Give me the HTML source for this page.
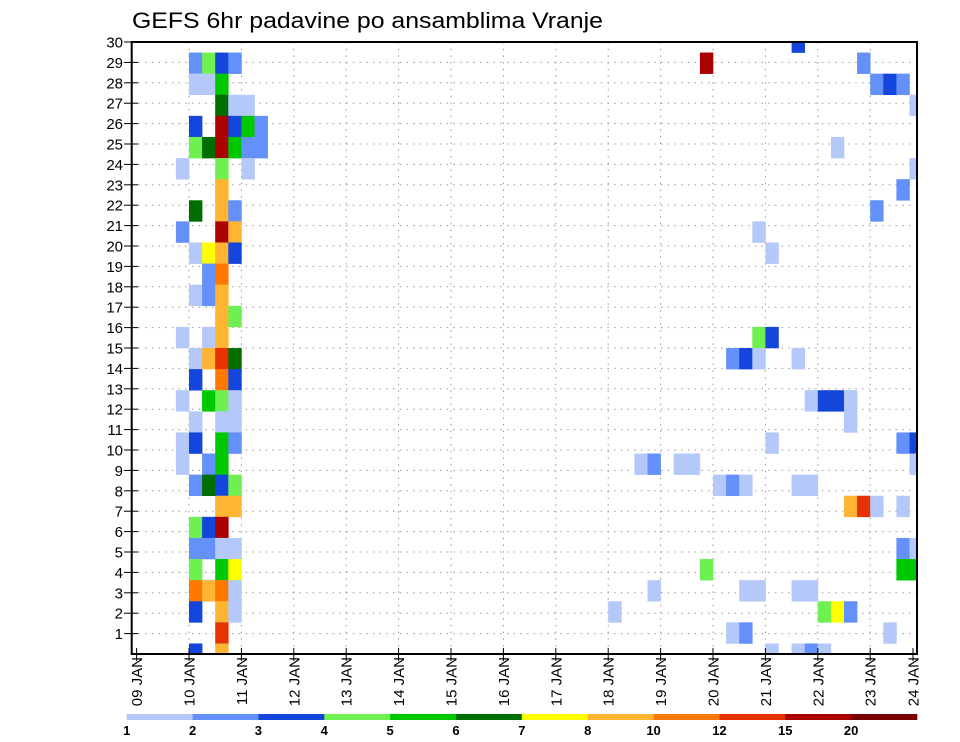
<!DOCTYPE html>
<html><head><meta charset="utf-8"><style>
html,body{margin:0;padding:0;background:#fff;}
svg{display:block;font-family:"Liberation Sans",sans-serif;}
</style></head><body>
<svg id="chart" width="960" height="742" viewBox="0 0 960 742" xmlns="http://www.w3.org/2000/svg">
<text x="132" y="28" font-size="22" textLength="471" lengthAdjust="spacingAndGlyphs" fill="#000">GEFS 6hr padavine po ansamblima Vranje</text>
<g id="grid"></g>
<g id="cells"></g>
<g id="axes"></g>
<g id="legend"></g>
</svg>
<script>
// ---- data ----
var dayLabels = ["09 JAN","10 JAN","11 JAN","12 JAN","13 JAN","14 JAN","15 JAN","16 JAN","17 JAN","18 JAN","19 JAN","20 JAN","21 JAN","22 JAN","23 JAN","24 JAN"];
var memberTicks = [1,2,3,4,5,6,7,8,9,10,11,12,13,14,15,16,17,18,19,20,21,22,23,24,25,26,27,28,29,30];
var levels = [1,2,3,4,5,6,7,8,10,12,15,20];
var levelColors = ["#b4c8fa","#6490fa","#1446dc","#6ef050","#00c800","#006e00","#ffff00","#ffb432","#ff7800","#e63200","#aa0000","#780000"];
// cells: 6-hour step index, member index, precipitation (mm)
var cellStep = [
4,5,6,7, 4,5,6, 6,7,8, 4,6,7,8,9, 4,5,6,7,8,9, 3,6,8, 6, 4,6,7, 3,6,7, 4,5,6,7, 5,6, 4,5,6, 6,7, 3,5,6,
4,5,6,7, 4,6,7, 3,5,6,7, 4,6,7, 3,4,6,7, 3,5,6, 4,5,6,7, 6,7, 4,5,6, 4,5,6,7, 4,6,7, 4,5,6,7, 4,6,7, 6, 4,6,
50, 43,55, 56,57,58, 59, 53, 59, 58, 56, 47, 48, 47,48, 45,46,47,50, 51,52,53,54, 54, 48,58,59, 38,39,41,42,59,
44,45,46,50,51, 54,55,56,58, 58,59, 43,58,59, 39,46,47,50,51, 36,52,53,54, 45,46,57, 48,50,51,52];
var cellMember = [
28,28,28,28, 27,27,27, 26,26,26, 25,25,25,25,25, 24,24,24,24,24,24, 23,23,23, 22, 21,21,21, 20,20,20, 19,19,19,19, 18,18, 17,17,17, 16,16, 15,15,15,
14,14,14,14, 13,13,13, 12,12,12,12, 11,11,11, 10,10,10,10, 9,9,9, 8,8,8,8, 7,7, 6,6,6, 5,5,5,5, 4,4,4, 3,3,3,3, 2,2,2, 1, 0,0,
29, 28,28, 27,27,27, 26, 24, 23, 22, 21, 20, 19, 15,15, 14,14,14,14, 12,12,12,12, 11, 10,10,10, 9,9,9,9,9,
8,8,8,8,8, 7,7,7,7, 5,5, 4,4,4, 3,3,3,3,3, 2,2,2,2, 1,1,1, 0,0,0,0];
var cellValue = [
2.5,4.5,3.5,2.5, 1.5,1.5,5.5, 6.5,1.5,1.5, 3.5,17,3.5,5.5,2.5, 4.5,6.5,17,5.5,2.5,2.5, 1.5,4.5,1.5, 9, 6.5,9,2.5, 2.5,17,9, 1.5,7.5,9,3.5, 2.5,11, 1.5,2.5,9, 9,4.5, 1.5,1.5,9,
1.5,9,13,6.5, 3.5,11,3.5, 1.5,5.5,4.5,1.5, 1.5,1.5,1.5, 1.5,3.5,5.5,2.5, 1.5,2.5,5.5, 2.5,6.5,3.5,4.5, 9,9, 4.5,3.5,17, 2.5,2.5,1.5,1.5, 4.5,5.5,7.5, 11,9,11,1.5, 3.5,9,1.5, 13, 3.5,9,
3.5, 17,2.5, 2.5,3.5,2.5, 1.5, 1.5, 1.5, 2.5, 2.5, 1.5, 1.5, 4.5,3.5, 2.5,3.5,1.5,1.5, 1.5,3.5,3.5,1.5, 1.5, 1.5,2.5,3.5, 1.5,2.5,1.5,1.5,1.5,
1.5,2.5,1.5,1.5,1.5, 9,13,1.5,1.5, 2.5,1.5, 4.5,5.5,5.5, 1.5,1.5,1.5,1.5,1.5, 1.5,4.5,7.5,2.5, 1.5,2.5,1.5, 1.5,1.5,2.5,1.5];

// ---- geometry ----
var NS="http://www.w3.org/2000/svg";
var L=131.7,R=917,T=42,B=654;
var x0=136.6, dayW=52.4, stepW=dayW/4;
function xDay(d){return x0+d*dayW;}
function xStep(k){return x0+k*stepW;}
var cellH=(B-T)/29;
function yMember(m){return B-m*cellH;}
var tickH=(B-T)/30;
function yTick(v){return B-v*tickH;}
function colorFor(v){var i=0;for(var j=0;j<levels.length;j++){if(v>=levels[j])i=j;}return levelColors[i];}
function mk(tag,attrs,parent){var e=document.createElementNS(NS,tag);for(var a in attrs)e.setAttribute(a,attrs[a]);parent.appendChild(e);return e;}

var grid=document.getElementById('grid');
for(var i=1;i<memberTicks.length;i++){
  var gl=mk('line',{x1:L,x2:R,y1:yTick(memberTicks[i-1]),y2:yTick(memberTicks[i-1]),stroke:'#999','stroke-width':1,'stroke-dasharray':'1.5,5.2'},grid);
  
  
}
for(var d=1;d<dayLabels.length-1;d++){
  var vl=mk('line',{x1:xDay(d),x2:xDay(d),y1:T,y2:B,stroke:'#999','stroke-width':1,'stroke-dasharray':'1.5,5.2'},grid);
  
  
}

var cells=document.getElementById('cells');
var clip=mk('clipPath',{id:'pc'},cells);
mk('rect',{x:L,y:T,width:R-L,height:B-T},clip);
cells.setAttribute('clip-path','url(#pc)');
for(var c=0;c<cellStep.length;c++){
  var yc=yMember(cellMember[c]);
  var r=mk('rect',{x:xStep(cellStep[c]),y:yc-cellH/2,width:stepW+0.3,height:cellH+0.3,fill:colorFor(cellValue[c])},cells);
  
  
}

var axes=document.getElementById('axes');
var frame=mk('rect',{x:L,y:T,width:R-L,height:B-T,fill:'none',stroke:'#000','stroke-width':2},axes);


for(var i=0;i<memberTicks.length;i++){
  var v=memberTicks[i],y=yTick(v);
  mk('line',{x1:124,x2:138,y1:y,y2:y,stroke:'#000','stroke-width':1},axes);
  var t=mk('text',{x:123,y:y+5.5,'font-size':15,'text-anchor':'end',fill:'#000'},axes);
  t.textContent=v;
  
  
}
for(var d=0;d<dayLabels.length;d++){
  var x=Math.min(xDay(d),913);
  mk('line',{x1:x,x2:x,y1:B-6,y2:B+7,stroke:'#000','stroke-width':1},axes);
  var t=mk('text',{x:0,y:0,'font-size':15,'text-anchor':'end',fill:'#000',transform:'translate('+(x+5.5)+',657) rotate(-90)'},axes);
  t.textContent=dayLabels[d];
  
  
}

var legend=document.getElementById('legend');
var lx=126.7, segW=(917-126.7)/levels.length;
for(var i=0;i<levels.length;i++){
  var s=mk('rect',{x:lx+i*segW,y:714,width:segW+0.3,height:6,fill:levelColors[i]},legend);
  
  
  var t=mk('text',{x:lx+i*segW,y:735,'font-size':13,'font-weight':'bold','text-anchor':'middle',fill:'#000'},legend);
  t.textContent=levels[i];
  
  
}
</script>
</body></html>
